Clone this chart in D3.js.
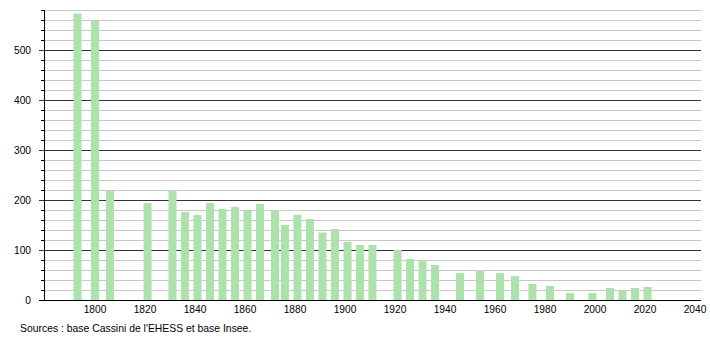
<!DOCTYPE html>
<html><head><meta charset="utf-8">
<script src="https://cdn.jsdelivr.net/npm/d3@7"></script>
<style>body{margin:0;background:#fff;} text{font-family:"Liberation Sans",Arial,sans-serif;}</style>
</head><body><svg id="c" width="710" height="340"></svg>
<script>
const years = [1793,1800,1806,1821,1831,1836,1841,1846,1851,1856,1861,1866,1872,1876,1881,1886,1891,1896,1901,1906,1911,1921,1926,1931,1936,1946,1954,1962,1968,1975,1982,1990,1999,2006,2011,2016,2021];
const population = [573,559,219,194,219,176,170,194,182,186,179,192,179,150,170,162,135,142,116,110,110,100,82,80,70,54,60,54,48,32,28,14,14,24,20,24,26];
const xTicks = [1800,1820,1840,1860,1880,1900,1920,1940,1960,1980,2000,2020,2040];
const yMajor = [0,100,200,300,400,500];
const yMinor = d3.range(20,600,20).filter(v=>v%100!==0);
const source = "Sources : base Cassini de l'EHESS et base Insee.";

const svg = d3.select("#c");
const x = d3.scaleLinear().domain([1779.6,2042.4]).range([44,701]);
const y = d3.scaleLinear().domain([0,580]).range([300,10]);

// minor grid
svg.append("g").selectAll("line").data(yMinor).join("line")
  .attr("x1",41).attr("x2",701).attr("y1",d=>y(d)+0.5).attr("y2",d=>y(d)+0.5)
  .attr("stroke","#c8c8c8").attr("stroke-width",1);
svg.append("g").selectAll("line").data(yMinor).join("line")
  .attr("x1",41).attr("x2",44).attr("y1",d=>y(d)+0.5).attr("y2",d=>y(d)+0.5)
  .attr("stroke","#000").attr("stroke-width",1);
// major grid
svg.append("g").selectAll("line").data(yMajor.filter(d=>d>0)).join("line")
  .attr("x1",39).attr("x2",701).attr("y1",d=>y(d)+0.5).attr("y2",d=>y(d)+0.5)
  .attr("stroke","#333").attr("stroke-width",1);

// bars
svg.append("g").selectAll("rect").data(years).join("rect")
  .attr("x",(d)=>x(d)-4).attr("width",8)
  .attr("y",(d,i)=>y(population[i])).attr("height",(d,i)=>y(0)-y(population[i]))
  .attr("fill","#ade2ad");

// axes lines
svg.append("line").attr("x1",44.5).attr("x2",44.5).attr("y1",10).attr("y2",300).attr("stroke","#000");
svg.append("line").attr("x1",39).attr("x2",701).attr("y1",300.5).attr("y2",300.5).attr("stroke","#000");

// y labels
svg.append("g").selectAll("text").data(yMajor).join("text")
  .attr("x",31).attr("y",d=>y(d)+4).attr("text-anchor","end")
  .attr("font-size",10.2).attr("fill","#000").text(d=>d);
// x labels
svg.append("g").selectAll("text").data(xTicks).join("text")
  .attr("x",d=>x(d)).attr("y",313).attr("text-anchor","middle")
  .attr("font-size",10.2).attr("fill","#000").text(d=>d);
// source
svg.append("text").attr("x",20).attr("y",332).attr("font-size",10.4).attr("fill","#000").text(source);
</script></body></html>
